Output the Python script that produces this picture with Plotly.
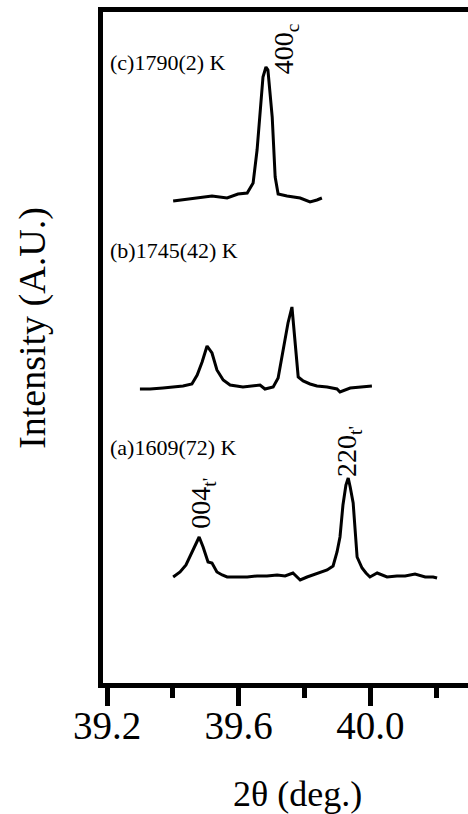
import plotly.graph_objects as go

# 2theta (deg) and relative intensity (A.U.) for each pattern
x_a = [39.401, 39.422, 39.440, 39.452, 39.464, 39.474, 39.480, 39.492, 39.507, 39.519,
       39.534, 39.550, 39.565, 39.595, 39.626, 39.656, 39.686, 39.717, 39.741, 39.765,
       39.787, 39.808, 39.826, 39.847, 39.869, 39.887, 39.899, 39.908, 39.917, 39.926,
       39.933, 39.939, 39.948, 39.960, 39.975, 39.987, 39.999, 40.021, 40.051, 40.081,
       40.106, 40.136, 40.167, 40.191, 40.203]
y_a = [0, 5, 12, 20, 29, 35, 40, 30, 15, 14,
       5, 2, 0, 0, 0, 1, 1, 2, 1, 4,
       -3, 0, 2, 4, 7, 11, 25, 40, 72, 92,
       99, 90, 74, 20, 9, 4, 0, 4, 0, 1,
       1, 3, 0, 0, -1]

x_b = [39.300, 39.331, 39.370, 39.401, 39.431, 39.458, 39.474, 39.489, 39.504, 39.519,
       39.534, 39.553, 39.574, 39.613, 39.641, 39.665, 39.680, 39.705, 39.720, 39.735,
       39.750, 39.762, 39.771, 39.781, 39.796, 39.817, 39.838, 39.869, 39.899, 39.908,
       39.939, 39.969, 39.990, 40.005]
y_b = [-2, -2, -1, 0, 1, 3, 12, 25, 41, 34,
       17, 7, 2, 0, 1, 2, -2, 0, 9, 37,
       64, 80, 47, 10, 6, 3, 1, 0, -2, -5,
       -1, 0, 0, 1]

x_c = [39.401, 39.443, 39.483, 39.519, 39.565, 39.598, 39.626, 39.644, 39.656, 39.665,
       39.674, 39.683, 39.689, 39.702, 39.711, 39.720, 39.747, 39.787, 39.817, 39.838,
       39.853]
y_c = [-2, 0, 2, 3, 1, 5, 6, 16, 49, 89,
       122, 132, 129, 82, 22, 5, 3, 1, -3, -1,
       1]

offsets = {"a": 106, "b": 296, "c": 484}
sample_labels = ["(a)1609(72) K", "(b)1745(42) K", "(c)1790(2) K"]
peak_labels = ["004<sub>t'</sub>", "220<sub>t'</sub>", "400<sub>c</sub>"]
tick_vals = [39.2, 39.6, 40.0]
tick_text = ["39.2", "39.6", "40.0"]
minor_vals = [39.4, 39.8, 40.2]

FONT = "Liberation Serif, Times New Roman, serif"

fig = go.Figure()
for xs, ys, k in [(x_a, y_a, "a"), (x_b, y_b, "b"), (x_c, y_c, "c")]:
    fig.add_trace(go.Scatter(x=xs, y=[v + offsets[k] for v in ys], mode="lines",
                             line=dict(color="black", width=3), showlegend=False,
                             hoverinfo="skip"))

# sample labels
for lab, k, dy in zip(sample_labels, ["a", "b", "c"], [130, 137, 137]):
    fig.add_annotation(x=39.203, y=offsets[k] + dy, xref="x", yref="y", text=lab,
                       showarrow=False, xanchor="left", yanchor="middle",
                       font=dict(family=FONT, size=22, color="black"))

# peak labels (rotated)
peak_pos = [(39.488, offsets["a"] + 74), (39.932, offsets["a"] + 126), (39.742, offsets["c"] + 150)]
for lab, (px, py) in zip(peak_labels, peak_pos):
    fig.add_annotation(x=px, y=py, xref="x", yref="y", text=lab, textangle=-90,
                       showarrow=False, xanchor="center", yanchor="middle",
                       font=dict(family=FONT, size=28, color="black"))

# axis titles
fig.add_annotation(x=-0.195, y=0.529, xref="paper", yref="paper", text="Intensity (A.U.)",
                   textangle=-90, showarrow=False, xanchor="center", yanchor="middle",
                   font=dict(family=FONT, size=38, color="black"))
fig.add_annotation(x=39.778, y=-0.166, xref="x", yref="paper", text="2θ (deg.)",
                   showarrow=False, xanchor="center", yanchor="middle",
                   font=dict(family=FONT, size=36, color="black"))

fig.update_xaxes(range=[39.1878, 40.297], showgrid=False, zeroline=False,
                 showline=True, linecolor="black", linewidth=5, mirror=True,
                 ticks="outside", ticklen=18, tickwidth=5, tickcolor="black",
                 tickvals=tick_vals, ticktext=tick_text, ticklabelstandoff=-14,
                 tickfont=dict(family=FONT, size=39, color="black"),
                 minor=dict(tickvals=minor_vals, ticks="outside", ticklen=10,
                            tickwidth=5, tickcolor="black"))
fig.update_yaxes(range=[0, 671], showgrid=False, zeroline=False, showticklabels=False,
                 showline=True, linecolor="black", linewidth=5, ticks="")

fig.update_layout(width=468, height=814, margin=dict(l=103, r=0, t=12, b=131),
                  plot_bgcolor="white", paper_bgcolor="white")

fig.write_html("out.html", config={"displayModeBar": False},
               post_script="document.body.style.margin='0';document.body.style.overflow='hidden';")
